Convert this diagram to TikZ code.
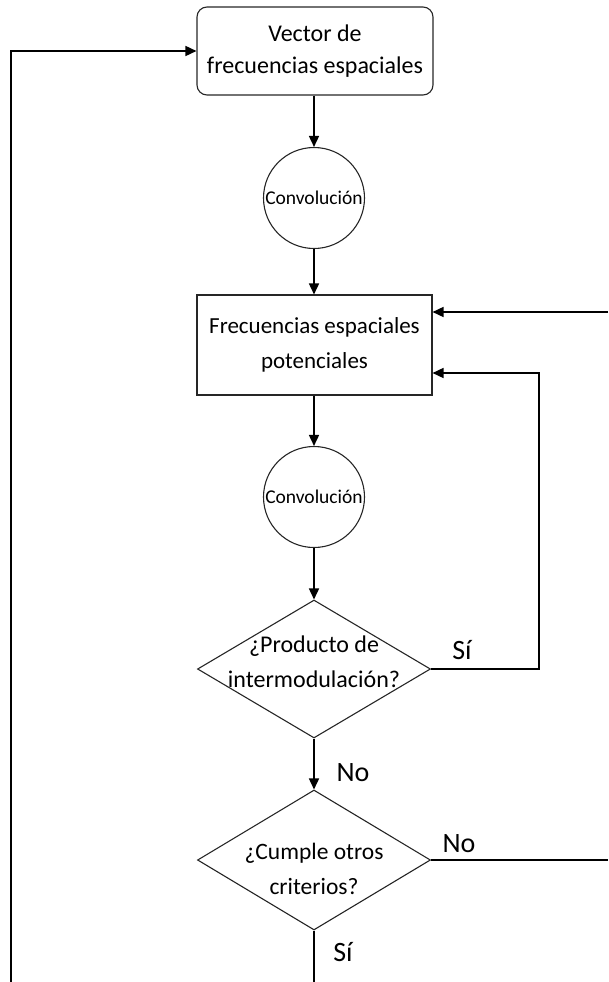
\documentclass[tikz,border=0pt]{standalone}
\usepackage{fontspec}
\setmainfont{Carlito}
\usetikzlibrary{shapes.geometric,arrows.meta}
\begin{document}
\begin{tikzpicture}[x=1pt,y=-1pt,
  shp/.style={draw=black!85,line width=1.1pt,inner sep=0pt,align=center},
  rbox/.style={shp,rectangle,rounded corners=10pt,minimum width=236pt,minimum height=88pt,font=\fontsize{24}{32}\selectfont},
  sbox/.style={shp,rectangle,minimum width=235pt,minimum height=100pt,font=\fontsize{23}{35}\selectfont},
  circ/.style={shp,circle,minimum size=101pt},
  dia/.style={shp,diamond,minimum width=233pt,minimum height=138pt},
  dtxt/.style={align=center,inner sep=0pt},
  conn/.style={line width=1.6pt,black},
  arr/.style={conn,-{Triangle[length=11pt,width=10pt]}},
  lbl/.style={inner sep=0pt,font=\fontsize{28}{30}\selectfont}
]
\useasboundingbox (0,0) rectangle (608,982);
\node[rbox] (v) at (315,51) {Vector de\\frecuencias espaciales};
\node[circ,label={[dtxt,font=\fontsize{19.5}{22}\selectfont]center:Convolución}] (c1) at (314,198) {};
\node[sbox] (f) at (314.5,345) {Frecuencias espaciales\\potenciales};
\node[circ,label={[dtxt,font=\fontsize{19.5}{22}\selectfont]center:Convolución}] (c2) at (314,497) {};
\node[dia,label={[dtxt,font=\fontsize{24}{35}\selectfont,yshift=7pt]center:{¿Producto de\\intermodulación?}}] (d1) at (314,669) {};
\node[dia,minimum height=140pt,label={[dtxt,font=\fontsize{23.5}{35}\selectfont,yshift=-9pt]center:{¿Cumple otros\\criterios?}}] (d2) at (314,860) {};

\coordinate (lb) at (11,982);
\coordinate (lt) at (11,51);
\coordinate (r1) at (608,312);
\coordinate (r2a) at (539,669);
\coordinate (r2b) at (539,373);
\coordinate (r3) at (608,860);
\coordinate (bot) at (314,982);

\draw[arr] (v.south -| c1) -- (c1.north);
\draw[arr] (c1) -- (f.north -| c1);
\draw[arr] (f.south -| c2) -- (c2.north);
\draw[arr] (c2) -- (d1.north);
\draw[arr] (d1.south) -- (d2.north);
\draw[arr] (lb) -- (lt) -- (v.west |- lt);
\draw[arr] (r1) -- (f.east |- r1);
\draw[arr] (d1.east) -- (r2a) -- (r2b) -- (f.east |- r2b);
\draw[conn] (d2.east) -- (r3);
\draw[conn] (d2.south) -- (bot);

\node[lbl] (s1) at (462,650) {Sí};
\node[lbl] (n1) at (353,773) {No};
\node[lbl] (n2) at (459,844) {No};
\node[lbl] (s2) at (343,952) {Sí};
\end{tikzpicture}
\end{document}
